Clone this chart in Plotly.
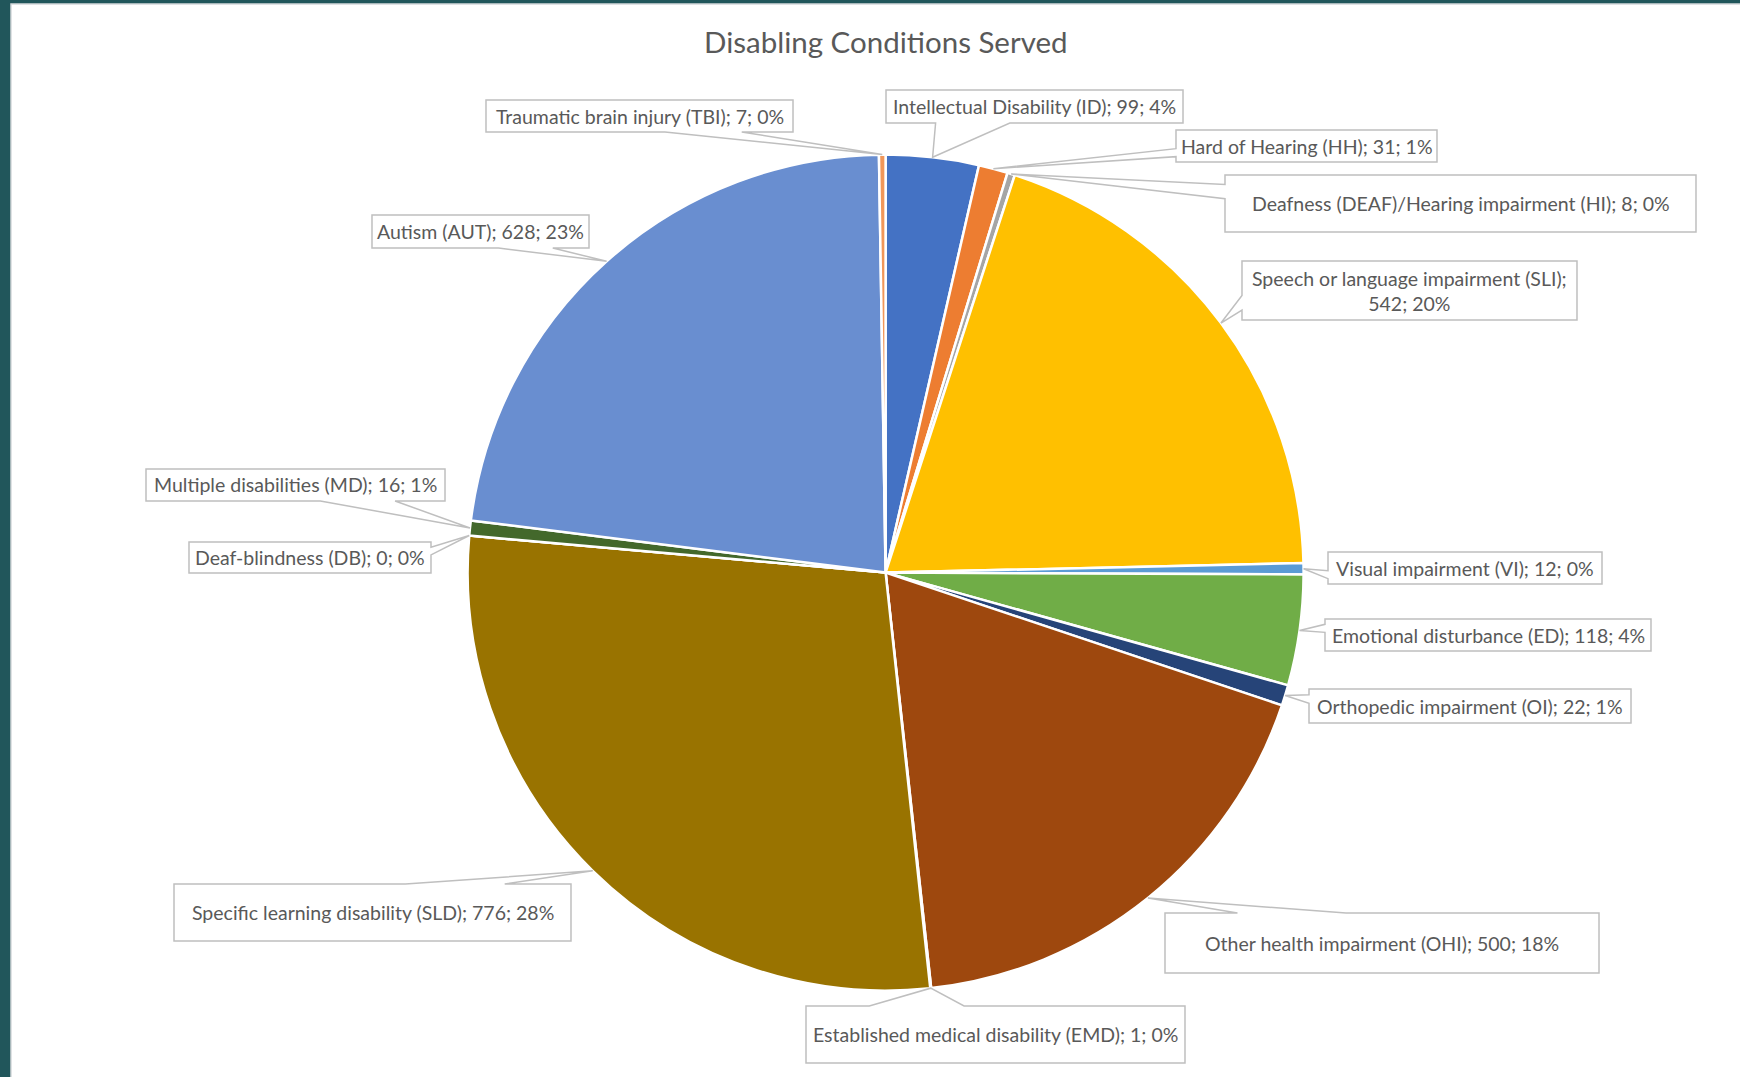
import math
import plotly.graph_objects as go

# ---------------- data ----------------
categories = [
    "Intellectual Disability (ID)",
    "Hard of Hearing (HH)",
    "Deafness (DEAF)/Hearing impairment (HI)",
    "Speech or language impairment (SLI)",
    "Visual impairment (VI)",
    "Emotional disturbance (ED)",
    "Orthopedic impairment (OI)",
    "Other health impairment (OHI)",
    "Established medical disability (EMD)",
    "Specific learning disability (SLD)",
    "Deaf-blindness (DB)",
    "Multiple disabilities (MD)",
    "Autism (AUT)",
    "Traumatic brain injury (TBI)",
]
counts = [99, 31, 8, 542, 12, 118, 22, 500, 1, 776, 0, 16, 628, 7]
colors = ["#4472C4", "#ED7D31", "#A5A5A5", "#FFC000", "#5B9BD5", "#70AD47", "#264478",
          "#9E480E", "#636363", "#997300", "#255E91", "#43682B", "#698ED0", "#F1975A"]
title_text = "Disabling Conditions Served"

# ---------------- layout (pixels) ----------------
W, H = 1740, 1077
# callout boxes: x0, y0, x1, y1 (pixels from top-left) and the side carrying the pointer
boxes = [
    (886, 90, 1183, 123, "b"),
    (1176, 130, 1437, 162, "l"),
    (1225, 175, 1696, 232, "l"),
    (1242, 261, 1577, 320, "l"),
    (1328, 552, 1602, 584, "l"),
    (1325, 619, 1651, 651, "l"),
    (1309, 689, 1631, 723, "l"),
    (1165, 913, 1599, 973, "t"),
    (806, 1006, 1185, 1063, "t"),
    (174, 884, 571, 941, "t"),
    (189, 542, 431, 573, "r"),
    (146, 469, 445, 501, "b"),
    (372, 215, 589, 248, "b"),
    (486, 100, 793, 132, "b"),
]
line_break_after = {3: "(SLI);"}

dom_x = [(885.6 - 418) / W, (885.6 + 418) / W]
dom_y = [(H - 572.6 - 418) / H, (H - 572.6 + 418) / H]

TEXT_COLOR = "#595959"
BOX_COLOR = "#BFBFBF"
BG_COLOR = "#21565B"
FONT = "Lato, 'Open Sans', sans-serif"

def px(x):
    return x / W

def py(y):
    return 1 - y / H

fig = go.Figure()
fig.add_trace(go.Pie(
    labels=categories, values=counts, sort=False, direction="clockwise", rotation=0,
    marker=dict(colors=colors, line=dict(color="white", width=2.5)),
    textinfo="none", hoverinfo="label+value+percent", showlegend=False,
    domain=dict(x=dom_x, y=dom_y),
))

# pie geometry in pixels, derived from the domain
cx = (dom_x[0] + dom_x[1]) / 2 * W
cy = H - (dom_y[0] + dom_y[1]) / 2 * H
r = min((dom_x[1] - dom_x[0]) * W, (dom_y[1] - dom_y[0]) * H) / 2

total = sum(counts)
shapes = [dict(type="rect", xref="paper", yref="paper", x0=px(11), x1=1.01, y0=-0.01, y1=py(4),
               fillcolor="white", line=dict(color="#D5D9DB", width=1.5), layer="below")]
annotations = [dict(text=title_text, x=px(cx), y=py(42), xref="paper", yref="paper",
                    xanchor="center", yanchor="middle", showarrow=False,
                    font=dict(family=FONT, size=29.5, color=TEXT_COLOR))]

cum = 0
for i, (name, v) in enumerate(zip(categories, counts)):
    theta = 2 * math.pi * (cum + v / 2) / total
    cum += v
    ax = cx + r * math.sin(theta)
    ay = cy - r * math.cos(theta)
    x0, y0, x1, y1, side = boxes[i]
    bw, bh = x1 - x0, y1 - y0
    if side in ("b", "t"):
        f = (0.583, 0.833) if ax > (x0 + x1) / 2 else (0.167, 0.417)
        lo, hi = x0 + f[0] * bw, x0 + f[1] * bw
        if side == "b":
            pts = [(x0, y0), (x1, y0), (x1, y1), (hi, y1), (ax, ay), (lo, y1), (x0, y1)]
        else:
            pts = [(x0, y0), (lo, y0), (ax, ay), (hi, y0), (x1, y0), (x1, y1), (x0, y1)]
    else:
        f = (0.583, 0.833) if ay > (y0 + y1) / 2 else (0.167, 0.417)
        lo, hi = y0 + f[0] * bh, y0 + f[1] * bh
        if side == "r":
            pts = [(x0, y0), (x1, y0), (x1, lo), (ax, ay), (x1, hi), (x1, y1), (x0, y1)]
        else:
            pts = [(x0, y0), (x1, y0), (x1, y1), (x0, y1), (x0, hi), (ax, ay), (x0, lo)]
    path = "M " + " L ".join(f"{px(a):.5f},{py(b):.5f}" for a, b in pts) + " Z"
    shapes.append(dict(type="path", path=path, xref="paper", yref="paper",
                       fillcolor="white", line=dict(color=BOX_COLOR, width=1.5), layer="above"))
    pct = round(100 * v / total)
    if i in line_break_after:
        label = name + ";<br>" + f"{v}; {pct}%"
    else:
        label = f"{name}; {v}; {pct}%"
    annotations.append(dict(text=label, x=px((x0 + x1) / 2), y=py((y0 + y1) / 2),
                            xref="paper", yref="paper", xanchor="center", yanchor="middle",
                            showarrow=False, align="center",
                            font=dict(family=FONT, size=19.5, color=TEXT_COLOR)))

fig.update_layout(
    width=W, height=H, margin=dict(l=0, r=0, t=0, b=0),
    paper_bgcolor=BG_COLOR, plot_bgcolor="white",
    shapes=shapes, annotations=annotations,
)
fig.write_html(
    "out.html",
    config={"displayModeBar": False},
    post_script=(
        "document.body.style.margin='0';"
        "document.body.style.overflow='hidden';"
        f"document.body.style.background='{BG_COLOR}';"
    ),
)
